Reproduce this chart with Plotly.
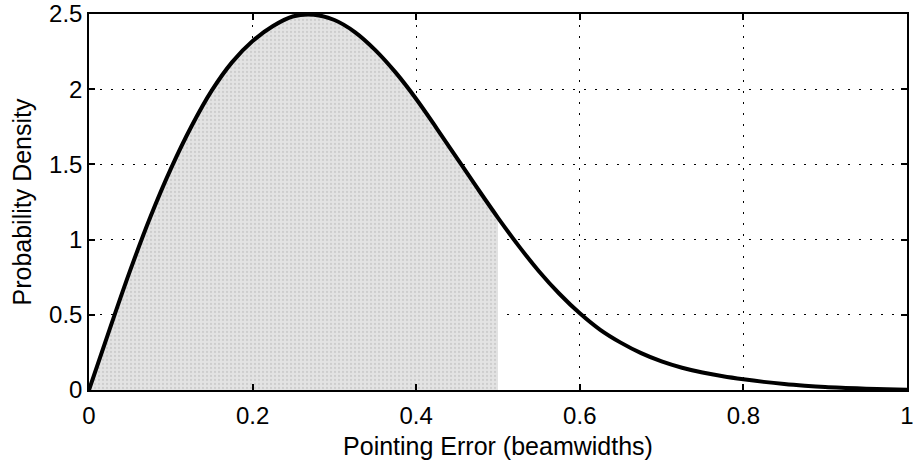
import plotly.graph_objects as go

# Pointing error (beamwidths) and probability density
x_err = [0.0, 0.025, 0.05, 0.075, 0.1, 0.125, 0.15, 0.175, 0.2, 0.225,
         0.25, 0.275, 0.3, 0.325, 0.35, 0.375, 0.4, 0.425, 0.45, 0.475,
         0.5, 0.525, 0.55, 0.575, 0.6, 0.625, 0.65, 0.675, 0.7, 0.725,
         0.75, 0.775, 0.8, 0.825, 0.85, 0.875, 0.9, 0.925, 0.95, 0.975, 1.0]
density = [0.0, 0.40, 0.79, 1.15, 1.47, 1.75, 1.99, 2.18, 2.32, 2.42,
           2.485, 2.495, 2.46, 2.38, 2.26, 2.11, 1.935, 1.74, 1.54, 1.34,
           1.145, 0.96, 0.79, 0.64, 0.51, 0.40, 0.315, 0.245, 0.19, 0.148,
           0.116, 0.091, 0.071, 0.054, 0.040, 0.029, 0.020, 0.014, 0.009, 0.005, 0.002]
shade_limit = 0.5

x_ticks = [0, 0.2, 0.4, 0.6, 0.8, 1]
x_ticklabels = ["0", "0.2", "0.4", "0.6", "0.8", "1"]
y_ticks = [0, 0.5, 1, 1.5, 2, 2.5]
y_ticklabels = ["0", "0.5", "1", "1.5", "2", "2.5"]

shade_x = [v for v in x_err if v <= shade_limit]
shade_y = density[:len(shade_x)]

fig = go.Figure()
fig.add_trace(go.Scatter(
    x=shade_x, y=shade_y, mode="lines", fill="tozeroy",
    line=dict(width=0, color="rgba(0,0,0,0)", shape="spline"),
    fillcolor="#dcdcdc",
    fillpattern=dict(shape=".", bgcolor="#e3e3e3", fgcolor="#b5b5b5", size=4, solidity=0.25),
    hoverinfo="skip", showlegend=False,
))
fig.add_trace(go.Scatter(
    x=x_err, y=density, mode="lines",
    line=dict(color="black", width=4, shape="spline", smoothing=1.0),
    showlegend=False,
))

tick_font = dict(family="Liberation Sans, Arial, sans-serif", size=24, color="black")
title_font = dict(family="Liberation Sans, Arial, sans-serif", size=25, color="black")
fig.update_layout(
    width=913, height=460,
    margin=dict(l=89, r=6, t=14, b=70),
    paper_bgcolor="white", plot_bgcolor="white",
    font=tick_font,
    xaxis=dict(
        range=[0, 1], tickvals=x_ticks, ticktext=x_ticklabels, automargin=False,
        ticklabeloverflow="allow",
        showgrid=True, gridcolor="black", gridwidth=1, griddash="1.5px,9.5px",
        showline=True, linecolor="black", linewidth=1.5, mirror="ticks",
        ticks="inside", ticklen=6, tickcolor="black", tickwidth=1.5,
        zeroline=False, tickfont=tick_font, ticklabelstandoff=3,
        title=dict(text="Pointing Error (beamwidths)", font=title_font, standoff=10),
    ),
    yaxis=dict(
        range=[0, 2.5], tickvals=y_ticks, ticktext=y_ticklabels, automargin=False,
        ticklabeloverflow="allow",
        showgrid=True, gridcolor="black", gridwidth=1, griddash="1.5px,9.5px",
        showline=True, linecolor="black", linewidth=1.5, mirror="ticks",
        ticks="inside", ticklen=6, tickcolor="black", tickwidth=1.5,
        zeroline=False, tickfont=tick_font,
        title=dict(text="Probability Density", font=title_font, standoff=10),
    ),
)
fig.write_html("out.html")
